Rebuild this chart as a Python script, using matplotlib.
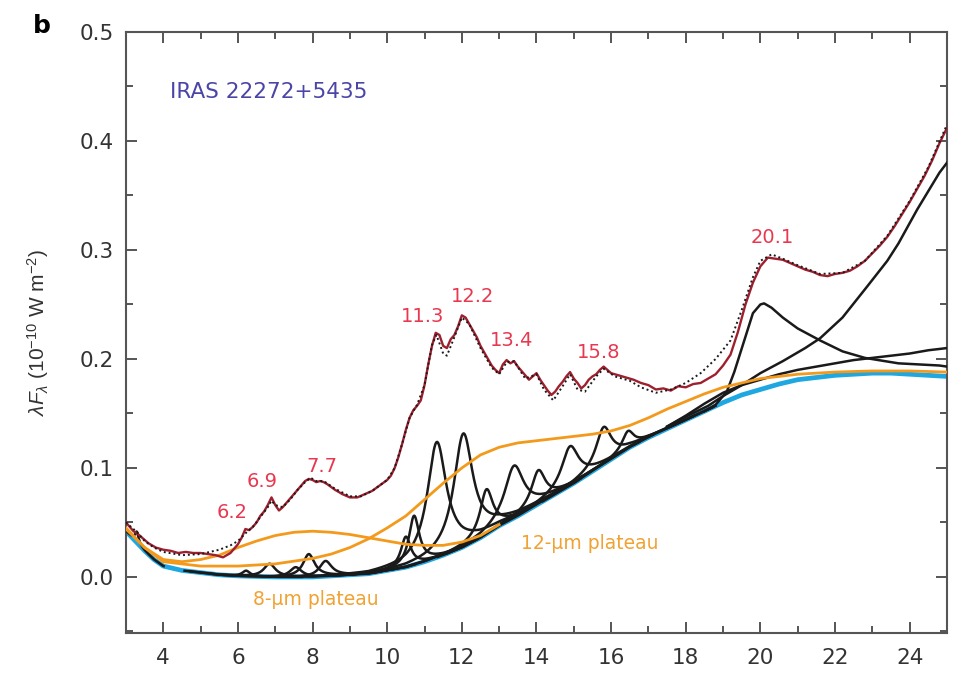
import numpy as np
import matplotlib.pyplot as plt
from matplotlib.ticker import MultipleLocator

plt.rcParams['font.family'] = ['DejaVu Sans']
plt.rcParams['mathtext.fontset'] = 'custom'
plt.rcParams['mathtext.rm'] = 'Liberation Sans'
plt.rcParams['mathtext.it'] = 'Liberation Sans:italic'

# observed spectrum (dark red)
spec_x = [3.0, 3.1, 3.2, 3.3, 3.4, 3.5, 3.6, 3.7, 3.8, 3.9, 4.0, 4.2, 4.4, 4.6, 4.8, 5.0,
          5.2, 5.4, 5.6, 5.8, 6.0, 6.1, 6.2, 6.3, 6.4, 6.5, 6.6, 6.7, 6.8, 6.9, 7.0, 7.1,
          7.2, 7.3, 7.4, 7.5, 7.6, 7.7, 7.8, 7.9, 8.0, 8.1, 8.2, 8.3, 8.4, 8.6, 8.8, 9.0,
          9.2, 9.4, 9.6, 9.8, 10.0, 10.1, 10.2, 10.3, 10.4, 10.5, 10.6, 10.7, 10.8, 10.9,
          11.0, 11.1, 11.2, 11.3, 11.4, 11.5, 11.6, 11.7, 11.8, 11.9, 12.0, 12.1, 12.2,
          12.3, 12.4, 12.5, 12.6, 12.7, 12.8, 12.9, 13.0, 13.1, 13.2, 13.3, 13.4, 13.5,
          13.6, 13.7, 13.8, 13.9, 14.0, 14.1, 14.2, 14.3, 14.4, 14.5, 14.6, 14.7, 14.8,
          14.9, 15.0, 15.1, 15.2, 15.3, 15.4, 15.5, 15.6, 15.7, 15.8, 15.9, 16.0, 16.2,
          16.4, 16.6, 16.8, 17.0, 17.2, 17.4, 17.6, 17.8, 18.0, 18.2, 18.4, 18.6, 18.8,
          19.0, 19.2, 19.4, 19.6, 19.8, 20.0, 20.2, 20.4, 20.6, 20.8, 21.0, 21.2, 21.4,
          21.6, 21.8, 22.0, 22.2, 22.4, 22.6, 22.8, 23.0, 23.2, 23.4, 23.6, 23.8, 24.0,
          24.2, 24.4, 24.6, 24.8, 25.0]
spec_y = [0.050, 0.046, 0.042, 0.040, 0.037, 0.034, 0.031, 0.029, 0.027, 0.026, 0.025,
          0.024, 0.022, 0.023, 0.022, 0.022, 0.021, 0.020, 0.018, 0.022, 0.030, 0.036,
          0.044, 0.043, 0.046, 0.050, 0.056, 0.060, 0.066, 0.073, 0.066, 0.061, 0.064,
          0.068, 0.072, 0.076, 0.080, 0.084, 0.088, 0.090, 0.089, 0.087, 0.088, 0.087,
          0.085, 0.080, 0.076, 0.073, 0.073, 0.076, 0.079, 0.084, 0.089, 0.093, 0.100,
          0.110, 0.122, 0.135, 0.146, 0.153, 0.157, 0.162, 0.176, 0.195, 0.212, 0.224,
          0.222, 0.212, 0.210, 0.218, 0.222, 0.230, 0.240, 0.238, 0.232, 0.226, 0.220,
          0.212, 0.206, 0.200, 0.194, 0.190, 0.187, 0.195, 0.199, 0.196, 0.198, 0.193,
          0.189, 0.185, 0.181, 0.184, 0.187, 0.181, 0.176, 0.171, 0.167, 0.170, 0.175,
          0.179, 0.184, 0.188, 0.182, 0.178, 0.173, 0.176, 0.181, 0.184, 0.186, 0.190,
          0.193, 0.190, 0.187, 0.185, 0.183, 0.181, 0.178, 0.176, 0.172, 0.173, 0.171,
          0.175, 0.174, 0.177, 0.178, 0.182, 0.186, 0.194, 0.204, 0.225, 0.250, 0.270,
          0.285, 0.293, 0.292, 0.291, 0.288, 0.285, 0.282, 0.280, 0.277, 0.276, 0.278,
          0.279, 0.281, 0.285, 0.290, 0.297, 0.304, 0.312, 0.322, 0.333, 0.344, 0.356,
          0.368, 0.382, 0.398, 0.412]

# total model fit (dotted)
fit_x = [3.0, 3.3, 3.5, 3.75, 4.0, 4.5, 5.0, 5.5, 5.8, 6.0, 6.2, 6.4, 6.6, 6.8, 6.9, 7.0,
         7.2, 7.4, 7.6, 7.8, 7.95, 8.1, 8.3, 8.6, 9.0, 9.3, 9.6, 10.0, 10.2, 10.4, 10.6,
         10.8, 11.0, 11.2, 11.32, 11.5, 11.6, 11.8, 12.0, 12.2, 12.5, 12.8, 13.0, 13.2,
         13.4, 13.7, 14.0, 14.2, 14.45, 14.7, 14.9, 15.1, 15.3, 15.6, 15.8, 16.1, 16.5,
         16.8, 17.2, 17.6, 18.0, 18.4, 18.8, 19.2, 19.5, 19.8, 20.0, 20.3, 20.6, 21.0,
         21.6, 22.2, 22.8, 23.4, 24.0, 24.5, 25.0]
fit_y = [0.050, 0.041, 0.033, 0.027, 0.023, 0.020, 0.021, 0.025, 0.029, 0.033, 0.040,
         0.046, 0.055, 0.064, 0.070, 0.066, 0.064, 0.071, 0.080, 0.087, 0.091, 0.088,
         0.088, 0.081, 0.074, 0.074, 0.079, 0.089, 0.100, 0.122, 0.146, 0.158, 0.176,
         0.213, 0.222, 0.205, 0.203, 0.220, 0.238, 0.232, 0.210, 0.192, 0.186, 0.197,
         0.198, 0.182, 0.186, 0.172, 0.162, 0.175, 0.186, 0.172, 0.170, 0.184, 0.191,
         0.184, 0.180, 0.174, 0.169, 0.172, 0.178, 0.187, 0.200, 0.217, 0.245, 0.275,
         0.290, 0.296, 0.292, 0.286, 0.278, 0.279, 0.290, 0.313, 0.345, 0.376, 0.415]

# continuum (blue)
cont_x = [3.0, 3.25, 3.5, 3.75, 4.0, 4.5, 5.0, 5.5, 6.0, 7.0, 8.0, 8.5, 9.0, 9.5, 10.0,
          10.5, 11.0, 11.5, 12.0, 12.5, 13.0, 13.5, 14.0, 14.5, 15.0, 15.5, 16.0, 16.5,
          17.0, 17.5, 18.0, 18.5, 19.0, 19.5, 20.0, 20.5, 21.0, 21.5, 22.0, 22.5, 23.0,
          23.5, 24.0, 24.5, 25.0]
cont_y = [0.042, 0.033, 0.024, 0.016, 0.010, 0.006, 0.004, 0.002, 0.001, 0.000, 0.000,
          0.001, 0.002, 0.003, 0.006, 0.009, 0.014, 0.020, 0.027, 0.036, 0.047, 0.056,
          0.066, 0.076, 0.086, 0.097, 0.108, 0.119, 0.128, 0.136, 0.144, 0.152, 0.160,
          0.167, 0.172, 0.177, 0.181, 0.183, 0.185, 0.186, 0.187, 0.187, 0.186, 0.185,
          0.184]

# plateaus on top of the continuum (orange)
plat8_x = [3.0, 3.5, 4.0, 4.5, 5.0, 5.5, 6.0, 6.5, 7.0, 7.5, 8.0, 8.5, 9.0, 9.5, 10.0,
           10.5, 11.0, 11.5, 12.0, 12.5, 13.0]
plat8_y = [0.045, 0.027, 0.016, 0.014, 0.016, 0.020, 0.027, 0.033, 0.038, 0.041, 0.042,
           0.041, 0.039, 0.036, 0.033, 0.030, 0.029, 0.029, 0.032, 0.038, 0.048]
plat12_x = [3.0, 3.5, 4.0, 5.0, 6.0, 7.0, 8.0, 8.5, 9.0, 9.5, 10.0, 10.5, 11.0, 11.5,
            12.0, 12.5, 13.0, 13.5, 14.0, 14.5, 15.0, 15.5, 16.0, 16.5, 17.0, 17.5,
            18.0, 18.5, 19.0, 19.5, 20.0, 21.0, 22.0, 23.0, 24.0, 25.0]
plat12_y = [0.044, 0.027, 0.014, 0.010, 0.010, 0.012, 0.017, 0.021, 0.027, 0.035, 0.045,
            0.056, 0.071, 0.086, 0.100, 0.112, 0.119, 0.123, 0.125, 0.127, 0.129, 0.131,
            0.134, 0.139, 0.146, 0.154, 0.161, 0.168, 0.174, 0.178, 0.182, 0.186, 0.188,
            0.189, 0.189, 0.188]

# narrow features: centre (um), height above continuum, FWHM (um)
band_center = [3.29, 6.22, 6.85, 7.55, 7.9, 8.35, 10.5, 10.72, 11.33, 12.04, 12.66,
               13.4, 14.05, 14.9, 15.8, 16.45]
band_height = [0.010, 0.005, 0.012, 0.009, 0.021, 0.014, 0.028, 0.045, 0.106, 0.104,
               0.041, 0.048, 0.031, 0.036, 0.034, 0.016]
band_fwhm = [0.12, 0.25, 0.38, 0.38, 0.38, 0.4, 0.32, 0.34, 0.62, 0.62, 0.42, 0.62,
             0.45, 0.55, 0.5, 0.38]

# broad long-wavelength components (black)
f20_x = [18.5, 18.8, 19.1, 19.3, 19.55, 19.8, 20.0, 20.1, 20.3, 20.6, 21.0, 21.6, 22.2,
         22.8, 23.7, 24.8, 25.0]
f20_y = [0.152, 0.158, 0.170, 0.188, 0.215, 0.242, 0.250, 0.251, 0.247, 0.238, 0.228,
         0.217, 0.207, 0.201, 0.196, 0.194, 0.193]
steep_x = [17.5, 18.0, 18.6, 19.0, 19.5, 20.0, 20.6, 21.2, 21.6, 22.2, 22.85, 23.4,
           23.7, 24.2, 24.8, 25.0]
steep_y = [0.138, 0.147, 0.157, 0.166, 0.176, 0.187, 0.198, 0.210, 0.219, 0.238, 0.266,
           0.290, 0.306, 0.337, 0.371, 0.380]
gentle_x = [17.5, 18.0, 18.5, 19.0, 19.5, 20.0, 20.5, 21.0, 21.5, 22.0, 22.5, 23.0,
            23.5, 24.0, 24.5, 25.0]
gentle_y = [0.138, 0.148, 0.159, 0.169, 0.176, 0.181, 0.186, 0.190, 0.193, 0.196, 0.199,
            0.201, 0.203, 0.205, 0.208, 0.210]

peak_labels = ['6.2', '6.9', '7.7', '11.3', '12.2', '13.4', '15.8', '20.1']
peak_label_x = [5.84, 6.64, 8.25, 10.96, 12.3, 13.32, 15.67, 20.31]
peak_label_y = [0.059, 0.088, 0.101, 0.239, 0.257, 0.217, 0.206, 0.311]


def drude(x, x0, h, fwhm):
    g = fwhm / x0
    return h * g**2 / ((x / x0 - x0 / x)**2 + g**2)


fig = plt.figure(figsize=(9.66, 6.76), dpi=100)
ax = fig.add_axes([0.1304, 0.0636, 0.8499, 0.8891])

axis_col = '#555555'
black = '#1a1a1a'

ax.plot(cont_x, cont_y, color='#1ea7e1', lw=3.4, zorder=2, solid_capstyle='butt')

for x0, h, w in zip(band_center, band_height, band_fwhm):
    xs = np.linspace(max(3.0, x0 - 6 * w), min(25.0, x0 + 6 * w), 300)
    base = np.interp(xs, cont_x, cont_y)
    ax.plot(xs, base + drude(xs, x0, h, w), color=black, lw=1.8, zorder=3)

ax.plot(f20_x, f20_y, color=black, lw=1.8, zorder=3)
ax.plot(steep_x, steep_y, color=black, lw=1.8, zorder=3)
ax.plot(gentle_x, gentle_y, color=black, lw=1.8, zorder=3)

ax.plot(plat8_x, plat8_y, color='#f39a1c', lw=2.0, zorder=4)
ax.plot(plat12_x, plat12_y, color='#f39a1c', lw=2.0, zorder=4)

ax.plot(spec_x, spec_y, color='#9e1f2e', lw=1.7, zorder=5)
ax.plot(fit_x, fit_y, color=black, lw=1.4, ls=(0, (1, 1.5)), zorder=6)

for lab, lx, ly in zip(peak_labels, peak_label_x, peak_label_y):
    ax.text(lx, ly, lab, color='#e8384f', fontsize=14, ha='center', va='center')

ax.text(4.18, 0.445, 'IRAS 22272+5435', color='#4a45a6', fontsize=15.5,
        ha='left', va='center')
ax.text(8.09, -0.021, '8-\u00b5m plateau', color='#f0a232', fontsize=13.5,
        ha='center', va='center')
ax.text(15.43, 0.031, '12-\u00b5m plateau', color='#f0a232', fontsize=13.5,
        ha='center', va='center')

ax.set_xlim(3, 25)
ax.set_ylim(-0.0514, 0.5)
ax.xaxis.set_major_locator(MultipleLocator(2))
ax.xaxis.set_minor_locator(MultipleLocator(1))
ax.yaxis.set_major_locator(MultipleLocator(0.1))
ax.yaxis.set_minor_locator(MultipleLocator(0.05))
ax.tick_params(which='both', direction='in', top=True, right=True, color=axis_col,
               width=1.4, labelsize=15.5, labelcolor='#333333')
ax.tick_params(axis='x', pad=11)
ax.tick_params(axis='y', pad=9)
ax.tick_params(which='major', length=8)
ax.tick_params(which='minor', length=5)
ax.set_xticks([4, 6, 8, 10, 12, 14, 16, 18, 20, 22, 24])
ax.set_yticks([0.0, 0.1, 0.2, 0.3, 0.4, 0.5])
ax.set_yticklabels(['0.0', '0.1', '0.2', '0.3', '0.4', '0.5'])
for s in ax.spines.values():
    s.set_color(axis_col)
    s.set_linewidth(1.5)

ax.set_ylabel(r'$\lambda F_\lambda$ (10$^{-10}$ W m$^{-2}$)', fontsize=15,
              family='Liberation Sans', color='#333333', labelpad=20)
fig.text(0.034, 0.962, 'b', fontsize=18, fontweight='bold', ha='left', va='center')

fig.savefig('out.png', dpi=100)
